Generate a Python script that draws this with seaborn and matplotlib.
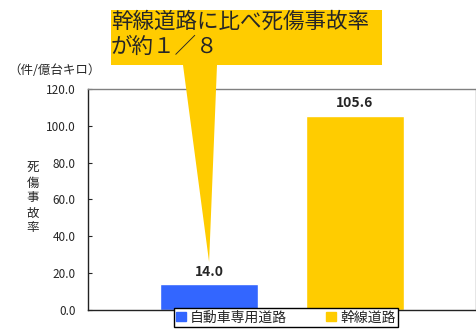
import matplotlib
matplotlib.use('Agg')
import matplotlib.pyplot as plt
import seaborn as sns
from matplotlib.patches import Polygon

# data
categories = ['自動車専用道路', '幹線道路']
rates = [14.0, 105.6]
colors = ['#3366FF', '#FFCC00']
yticks = [0, 20, 40, 60, 80, 100, 120]

sns.set_style('white')
plt.rcParams['font.family'] = ['Noto Sans CJK JP', 'DejaVu Sans']

fig = plt.figure(figsize=(4.77, 3.29), dpi=100)
ax = fig.add_axes([0.1845, 0.058, 0.8135, 0.6715])

sns.barplot(x=categories, y=rates, hue=categories, palette=colors,
            legend=False, width=0.67, saturation=1, ax=ax)

ax.set_ylim(0, 120)
ax.set_xlim(-0.83, 1.83)
ax.set_yticks(yticks)
ax.set_yticklabels([f'{v:.1f}' for v in yticks], fontsize=8.5)
ax.set_xticks([])
ax.set_xlabel('')
ax.set_ylabel('')
ax.tick_params(axis='y', direction='in', length=3, width=0.8, left=True, pad=9)
for side in ['left', 'bottom']:
    ax.spines[side].set_color('#222222')
    ax.spines[side].set_linewidth(1.0)
for side in ['top', 'right']:
    ax.spines[side].set_color('#808080')
    ax.spines[side].set_linewidth(1.0)

for cont in ax.containers:
    ax.bar_label(cont, fmt='%.1f', fontsize=10, fontweight='bold', padding=4)

# unit and y label
fig.text(8 / 477, 1 - 70 / 329, '（件/億台キロ）', fontsize=9, va='center', ha='left')
fig.text(33 / 477, 1 - 198 / 329, '死\n傷\n事\n故\n率', fontsize=9, va='center',
         ha='center', linespacing=1.2)

# legend
handles = [plt.Rectangle((0, 0), 1, 1, color=c) for c in colors]
fig.legend(handles, categories, loc='upper center', bbox_to_anchor=(286 / 477, 1 - 307 / 329),
           ncol=2, fontsize=10, frameon=True, fancybox=False, edgecolor='black',
           handlelength=0.7, handleheight=0.7, handletextpad=0.3, columnspacing=2.8,
           borderpad=0.15, borderaxespad=0.1, framealpha=1)

# callout
fig.canvas.draw()
tip = ax.transData.transform((0, rates[0] + 12))
tipf = fig.transFigure.inverted().transform(tip)
W, H = 477, 329
box = [(111 / W, 1 - 10 / H), (382 / W, 1 - 10 / H), (382 / W, 1 - 65 / H),
       (217 / W, 1 - 65 / H), (tipf[0], tipf[1]), (183 / W, 1 - 65 / H),
       (111 / W, 1 - 65 / H)]
fig.patches.append(Polygon(box, closed=True, transform=fig.transFigure,
                           facecolor='#FFCC00', edgecolor='none', zorder=5))
fig.text(111 / W, 1 - 11 / H, '幹線道路に比べ死傷事故率\nが約１／８', fontsize=15.5,
         va='top', ha='left', linespacing=1.15, zorder=6)

fig.savefig('out.png', dpi=100)
